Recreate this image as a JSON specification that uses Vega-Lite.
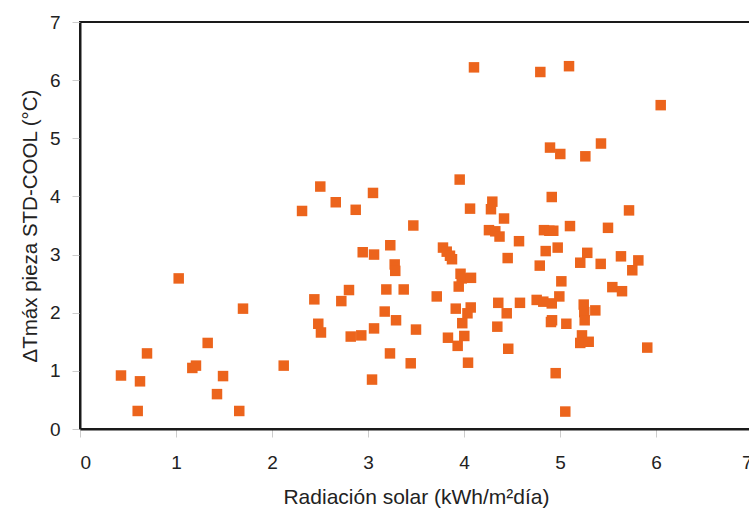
{
  "$schema": "https://vega.github.io/schema/vega-lite/v6.json",
  "autosize": "none",
  "padding": {"left": 80, "top": 22, "right": 0, "bottom": 82},
  "width": 672,
  "height": 407,
  "background": "white",
  "config": {
    "view": {"stroke": "#1a1a1a", "strokeWidth": 2},
    "font": "Liberation Sans"
  },
  "data": {
    "values": [
      {"rad": 0.427, "dt": 0.92}, {"rad": 0.625, "dt": 0.82}, {"rad": 0.698, "dt": 1.30}, {"rad": 0.601, "dt": 0.31},
      {"rad": 1.028, "dt": 2.59}, {"rad": 1.170, "dt": 1.05}, {"rad": 1.208, "dt": 1.09}, {"rad": 1.330, "dt": 1.48},
      {"rad": 1.490, "dt": 0.91}, {"rad": 1.427, "dt": 0.60}, {"rad": 1.659, "dt": 0.31}, {"rad": 1.698, "dt": 2.07},
      {"rad": 2.122, "dt": 1.09},
      {"rad": 2.313, "dt": 3.75}, {"rad": 2.503, "dt": 4.17}, {"rad": 2.664, "dt": 3.90}, {"rad": 2.872, "dt": 3.77},
      {"rad": 3.052, "dt": 4.06}, {"rad": 3.472, "dt": 3.50}, {"rad": 3.232, "dt": 3.16}, {"rad": 2.945, "dt": 3.04},
      {"rad": 3.063, "dt": 3.00}, {"rad": 3.278, "dt": 2.83}, {"rad": 3.284, "dt": 2.72}, {"rad": 2.802, "dt": 2.39},
      {"rad": 3.191, "dt": 2.40}, {"rad": 3.372, "dt": 2.40}, {"rad": 2.441, "dt": 2.23}, {"rad": 2.722, "dt": 2.20},
      {"rad": 3.174, "dt": 2.02}, {"rad": 3.292, "dt": 1.87}, {"rad": 2.482, "dt": 1.81}, {"rad": 2.510, "dt": 1.66},
      {"rad": 3.063, "dt": 1.73}, {"rad": 2.930, "dt": 1.61}, {"rad": 2.820, "dt": 1.59}, {"rad": 3.500, "dt": 1.71},
      {"rad": 3.229, "dt": 1.30}, {"rad": 3.042, "dt": 0.85}, {"rad": 3.445, "dt": 1.13},
      {"rad": 3.955, "dt": 4.29}, {"rad": 4.063, "dt": 3.79}, {"rad": 4.104, "dt": 6.22}, {"rad": 4.295, "dt": 3.91},
      {"rad": 4.281, "dt": 3.78}, {"rad": 4.260, "dt": 3.42}, {"rad": 4.326, "dt": 3.40}, {"rad": 4.370, "dt": 3.31},
      {"rad": 3.781, "dt": 3.12}, {"rad": 3.820, "dt": 3.05}, {"rad": 3.854, "dt": 2.98}, {"rad": 3.875, "dt": 2.92},
      {"rad": 3.964, "dt": 2.67}, {"rad": 3.976, "dt": 2.59}, {"rad": 4.073, "dt": 2.60}, {"rad": 3.945, "dt": 2.45},
      {"rad": 3.716, "dt": 2.28}, {"rad": 3.914, "dt": 2.07}, {"rad": 4.070, "dt": 2.09}, {"rad": 4.036, "dt": 1.99},
      {"rad": 4.357, "dt": 2.17}, {"rad": 3.982, "dt": 1.82}, {"rad": 3.833, "dt": 1.57}, {"rad": 4.003, "dt": 1.60},
      {"rad": 3.934, "dt": 1.43}, {"rad": 4.347, "dt": 1.76}, {"rad": 4.461, "dt": 1.38}, {"rad": 4.042, "dt": 1.14},
      {"rad": 4.417, "dt": 3.62}, {"rad": 4.573, "dt": 3.23}, {"rad": 4.455, "dt": 2.94}, {"rad": 4.445, "dt": 1.99},
      {"rad": 4.583, "dt": 2.17},
      {"rad": 4.795, "dt": 6.14}, {"rad": 5.094, "dt": 6.24}, {"rad": 4.896, "dt": 4.84}, {"rad": 5.003, "dt": 4.73},
      {"rad": 5.264, "dt": 4.69}, {"rad": 5.427, "dt": 4.91}, {"rad": 4.914, "dt": 3.99}, {"rad": 4.833, "dt": 3.42},
      {"rad": 4.889, "dt": 3.41}, {"rad": 4.930, "dt": 3.41}, {"rad": 5.104, "dt": 3.49}, {"rad": 5.500, "dt": 3.46},
      {"rad": 5.719, "dt": 3.76}, {"rad": 4.976, "dt": 3.12}, {"rad": 4.851, "dt": 3.06}, {"rad": 5.284, "dt": 3.03},
      {"rad": 5.635, "dt": 2.97}, {"rad": 5.816, "dt": 2.90}, {"rad": 5.211, "dt": 2.86}, {"rad": 5.424, "dt": 2.84},
      {"rad": 4.789, "dt": 2.81}, {"rad": 5.753, "dt": 2.73}, {"rad": 5.014, "dt": 2.54}, {"rad": 5.545, "dt": 2.44},
      {"rad": 5.646, "dt": 2.37}, {"rad": 4.757, "dt": 2.22}, {"rad": 4.826, "dt": 2.19}, {"rad": 4.914, "dt": 2.16},
      {"rad": 4.993, "dt": 2.28}, {"rad": 5.247, "dt": 2.14}, {"rad": 5.253, "dt": 2.01}, {"rad": 5.257, "dt": 1.87},
      {"rad": 5.368, "dt": 2.04}, {"rad": 4.917, "dt": 1.87}, {"rad": 4.906, "dt": 1.84}, {"rad": 5.066, "dt": 1.81},
      {"rad": 5.229, "dt": 1.61}, {"rad": 5.211, "dt": 1.48}, {"rad": 5.299, "dt": 1.50}, {"rad": 5.909, "dt": 1.40},
      {"rad": 4.955, "dt": 0.96}, {"rad": 5.055, "dt": 0.30}, {"rad": 6.049, "dt": 5.57}
    ]
  },
  "mark": {"type": "square", "color": "#EC641C", "opacity": 1, "size": 110, "filled": true},
  "encoding": {
    "x": {
      "field": "rad", "type": "quantitative",
      "scale": {"domain": [0, 7], "nice": false, "zero": true},
      "axis": {
        "title": "Radiación solar (kWh/m²día)",
        "values": [0, 1, 2, 3, 4, 5, 6, 7],
        "format": "d",
        "grid": false,
        "domainColor": "#1a1a1a", "domainWidth": 2,
        "tickColor": "#cccccc", "tickSize": 8, "tickWidth": 1,
        "labelFontSize": 19, "labelColor": "#222222", "labelPadding": 16,
        "labelFont": "Liberation Sans",
        "titleFontSize": 21, "titleFontWeight": "normal", "titleColor": "#222222",
        "titleFont": "Liberation Sans", "titlePadding": 14
      }
    },
    "y": {
      "field": "dt", "type": "quantitative",
      "scale": {"domain": [0, 7], "nice": false},
      "axis": {
        "title": "ΔTmáx pieza STD-COOL (°C)",
        "values": [0, 1, 2, 3, 4, 5, 6, 7],
        "format": "d",
        "grid": false,
        "domainColor": "#1a1a1a", "domainWidth": 2,
        "tickColor": "#cccccc", "tickSize": 8, "tickWidth": 1,
        "labelFontSize": 19, "labelColor": "#222222", "labelPadding": 12,
        "labelFont": "Liberation Sans",
        "titleFontSize": 20.5, "titleFontWeight": "normal", "titleColor": "#222222",
        "titleFont": "Liberation Sans", "titlePadding": 9
      }
    }
  }
}
